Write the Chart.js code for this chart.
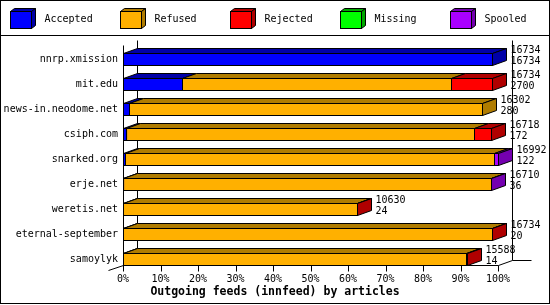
<!DOCTYPE html>
<html>
<head>
<meta charset="utf-8">
<script src="https://cdn.jsdelivr.net/npm/chart.js@4"></script>
<style>
  html, body { margin: 0; padding: 0; background: #fff; }
  canvas { display: block; }
</style>
</head>
<body>
<canvas id="feedChart" width="550" height="305"></canvas>
<script>
// innfeed outgoing feeds, articles per peer
const sites = ['nnrp.xmission', 'mit.edu', 'news-in.neodome.net', 'csiph.com', 'snarked.org',
               'erje.net', 'weretis.net', 'eternal-september', 'samoylyk'];
const offered  = [16734, 16734, 16302, 16718, 16992, 16710, 10630, 16734, 15588];
const accepted = [16734, 2700, 280, 172, 122, 36, 24, 20, 14];
const refused  = [0, 12190, 16022, 15748, 16720, 16654, 10596, 16704, 15564];
const rejected = [0, 1844, 0, 798, 0, 0, 10, 10, 10];
const missing  = [0, 0, 0, 0, 0, 0, 0, 0, 0];
const spooled  = [0, 0, 0, 0, 150, 20, 0, 0, 0];

const seriesNames = ['Accepted', 'Refused', 'Rejected', 'Missing', 'Spooled'];
const frontColors = ['#0000ff', '#ffb000', '#ff0000', '#00ff00', '#aa00ff'];
const darkColors  = ['#0000a8', '#b07c00', '#b00000', '#00a800', '#7400b0'];

const dx = 14, dy = 5;
const monoFont = '"DejaVu Sans Mono", "Liberation Mono", monospace';

// bars are scaled against the largest offered count
const maxOffered = Math.max(...offered);
const pct = arr => arr.map(v => v / maxOffered * 100);
const series = [accepted, refused, rejected, missing, spooled];

function poly(ctx, pts, fill) {
    ctx.beginPath();
    ctx.moveTo(pts[0][0], pts[0][1]);
    for (let i = 1; i < pts.length; i++) ctx.lineTo(pts[i][0], pts[i][1]);
    ctx.closePath();
    ctx.fillStyle = fill;
    ctx.fill();
    ctx.stroke();
}

const frame3d = {
    id: 'frame3d',
    beforeDraw(chart) {
        const ctx = chart.ctx;
        ctx.save();
        ctx.fillStyle = '#fff';
        ctx.fillRect(0, 0, chart.width, chart.height);
        ctx.restore();
    },
    beforeDatasetsDraw(chart) {
        const {ctx, chartArea, scales: {x, y}} = chart;
        const left = Math.round(x.getPixelForValue(0)) + 0.5;
        const right = Math.round(x.getPixelForValue(100)) + 0.5;
        const floor = Math.floor(y.getPixelForValue(sites.length - 1) + 6) + 0.5;
        const top = Math.round(chartArea.top) + 0.5;
        ctx.save();
        ctx.strokeStyle = '#000';
        ctx.lineWidth = 1;
        ctx.beginPath();
        // back wall edges
        ctx.moveTo(left + dx, top - 7);
        ctx.lineTo(left + dx, floor - dy);
        ctx.moveTo(right + dx, top - 7);
        ctx.lineTo(right + dx, floor - dy);
        ctx.lineTo(right + dx + 19, floor - dy);
        // front axis
        ctx.moveTo(left, top - 2);
        ctx.lineTo(left, floor);
        ctx.lineTo(right, floor);
        ctx.lineTo(right + dx, floor - dy);
        ctx.moveTo(left, floor);
        ctx.lineTo(left - dx - 1, floor + dy);
        x.ticks.forEach(t => {
            const px = Math.round(x.getPixelForValue(t.value)) + 0.5;
            ctx.moveTo(px, floor);
            ctx.lineTo(px, floor + 6);
        });
        ctx.stroke();
        ctx.restore();
    },
    afterDatasetsDraw(chart) {
        const ctx = chart.ctx;
        const datasets = chart.data.datasets;
        ctx.save();
        ctx.lineWidth = 1;
        ctx.strokeStyle = '#000';
        sites.forEach((site, i) => {
            const segs = [];
            datasets.forEach((ds, d) => {
                if (!ds.data[i]) return;
                const el = chart.getDatasetMeta(d).data[i];
                const p = el.getProps(['x', 'y', 'base'], true);
                segs.push({d: d, x0: Math.min(p.base, p.x), x1: Math.max(p.base, p.x), cy: p.y});
            });
            if (!segs.length) return;
            const cy = segs[0].cy;
            const t = Math.floor(cy - 6) + 0.5;
            const b = t + 12;
            segs.forEach(s => {
                const a = Math.floor(s.x0) + 0.5;
                const e = Math.floor(s.x1) + 0.5;
                poly(ctx, [[a, t], [a + dx, t - dy], [e + dx, t - dy], [e, t]], darkColors[s.d]);
                ctx.strokeRect(a, t, e - a, 12);
            });
            const last = segs[segs.length - 1];
            const e = Math.floor(last.x1) + 0.5;
            poly(ctx, [[e, t], [e + dx, t - dy], [e + dx, b - dy], [e, b]], darkColors[last.d]);

            ctx.fillStyle = '#000';
            ctx.font = '10px ' + monoFont;
            ctx.textAlign = 'left';
            ctx.textBaseline = 'middle';
            ctx.fillText(String(offered[i]), e + 18, cy - 9);
            ctx.fillText(String(accepted[i]), e + 18, cy + 2);
        });
        ctx.restore();
    },
    afterDraw(chart) {
        const ctx = chart.ctx;
        ctx.save();
        ctx.lineWidth = 1;
        ctx.strokeStyle = '#000';
        ctx.strokeRect(0.5, 0.5, 549, 303);
        ctx.beginPath();
        ctx.moveTo(0, 35.5);
        ctx.lineTo(550, 35.5);
        ctx.stroke();
        chart.data.datasets.forEach((ds, k) => {
            const bx = 10.5 + 110 * k, by = 11.5, w = 21, h = 17;
            poly(ctx, [[bx, by], [bx + 4, by - 3], [bx + w + 4, by - 3], [bx + w, by]], darkColors[k]);
            poly(ctx, [[bx + w, by], [bx + w + 4, by - 3], [bx + w + 4, by + h - 3], [bx + w, by + h]], darkColors[k]);
            ctx.fillStyle = frontColors[k];
            ctx.fillRect(bx, by, w, h);
            ctx.strokeRect(bx, by, w, h);
            ctx.fillStyle = '#000';
            ctx.font = '10px ' + monoFont;
            ctx.textAlign = 'left';
            ctx.textBaseline = 'middle';
            ctx.fillText(ds.label, bx + 34, 19.5);
        });
        ctx.restore();
    }
};

const config = {
    type: 'bar',
    data: {
        labels: sites,
        datasets: seriesNames.map((name, k) => ({
            label: name,
            data: pct(series[k]),
            backgroundColor: frontColors[k],
            borderWidth: 0,
            barThickness: 12
        }))
    },
    options: {
        responsive: false,
        animation: false,
        indexAxis: 'y',
        layout: { padding: { left: 0, right: 0, top: 47, bottom: 0 } },
        plugins: {
            legend: { display: false },
            tooltip: { enabled: false },
            title: {
                display: true,
                position: 'bottom',
                text: 'Outgoing feeds (innfeed) by articles',
                color: '#000',
                font: { family: monoFont, size: 11.5, weight: 'bold', lineHeight: 1.2 },
                padding: { top: 0, bottom: 6 }
            }
        },
        scales: {
            x: {
                stacked: true,
                min: 0,
                max: 100,
                afterFit: s => { s.height = 33 - 19.8; },
                grid: { display: false, drawTicks: false },
                border: { display: false },
                ticks: {
                    stepSize: 10,
                    padding: 1,
                    color: '#000',
                    autoSkip: false,
                    maxRotation: 0,
                    font: { family: monoFont, size: 10 },
                    callback: v => v + '%'
                }
            },
            y: {
                stacked: true,
                afterFit: s => { s.width = 123; },
                grid: { display: false, drawTicks: false },
                border: { display: false },
                ticks: { padding: 5, color: '#000', autoSkip: false, font: { family: monoFont, size: 10 } }
            },
            yRight: {
                type: 'linear',
                position: 'right',
                afterFit: s => { s.width = 52; },
                grid: { display: false, drawTicks: false },
                border: { display: false },
                ticks: { display: false }
            }
        }
    },
    plugins: [frame3d]
};

const feedChart = new Chart(document.getElementById('feedChart').getContext('2d'), config);
</script>
</body>
</html>
